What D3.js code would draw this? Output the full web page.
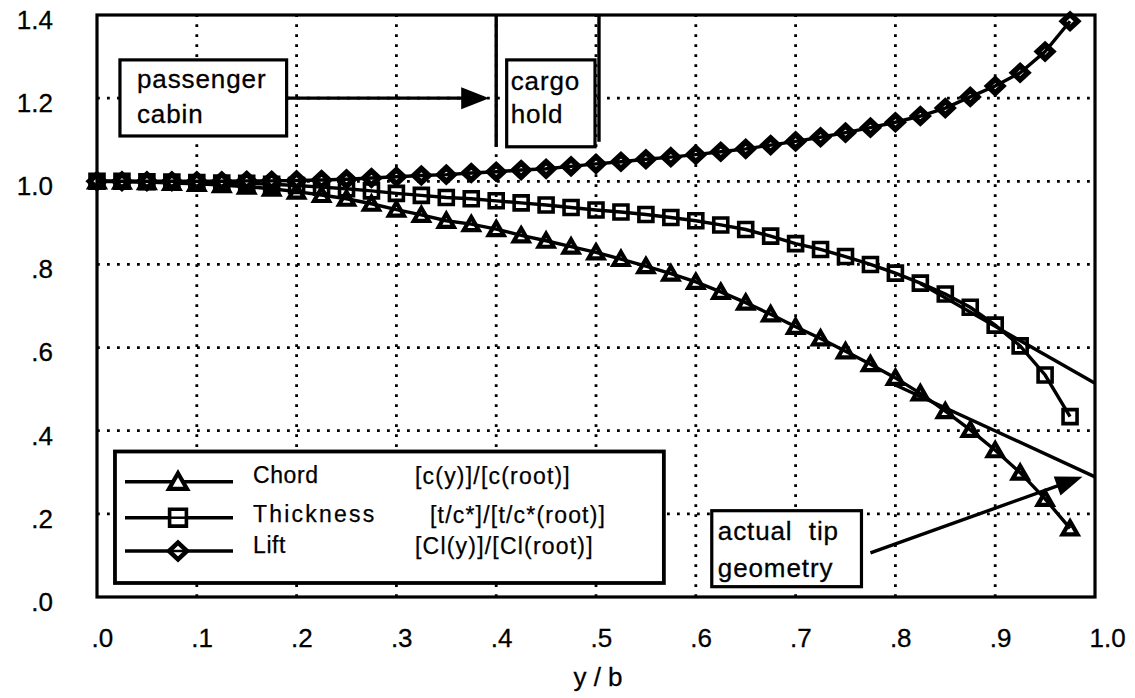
<!DOCTYPE html>
<html><head><meta charset="utf-8">
<script src="https://cdn.jsdelivr.net/npm/d3@7"></script>
<style>
html,body{margin:0;padding:0;background:#fff;}
svg{display:block;font-family:"Liberation Sans",Arial,Helvetica,sans-serif;}
</style></head><body>
<svg id="chart" width="1135" height="698"></svg>
<script>
// ---------- data ----------
const spanStations = [0,0.025,0.05,0.075,0.1,0.125,0.15,0.175,0.2,0.225,0.25,0.275,0.3,0.325,0.35,0.375,0.4,0.425,0.45,0.475,0.5,0.525,0.55,0.575,0.6,0.625,0.65,0.675,0.7,0.725,0.75,0.775,0.8,0.825,0.85,0.875,0.9,0.925,0.95,0.975];
const chordRatio = [1.000,0.999,0.998,0.996,0.994,0.991,0.987,0.982,0.975,0.967,0.958,0.946,0.932,0.919,0.905,0.897,0.885,0.870,0.857,0.843,0.829,0.813,0.796,0.778,0.758,0.734,0.708,0.680,0.650,0.622,0.591,0.560,0.527,0.490,0.447,0.402,0.353,0.299,0.236,0.165];
const thicknessRatio = [1.000,1.000,0.999,0.998,0.997,0.996,0.995,0.993,0.990,0.986,0.982,0.977,0.971,0.966,0.961,0.958,0.953,0.948,0.943,0.937,0.931,0.926,0.920,0.913,0.905,0.895,0.884,0.868,0.850,0.836,0.819,0.800,0.779,0.755,0.729,0.697,0.654,0.604,0.534,0.434];
const liftRatio = [1.000,1.000,1.000,1.000,1.000,1.000,1.001,1.001,1.002,1.003,1.005,1.008,1.011,1.014,1.016,1.020,1.023,1.027,1.030,1.036,1.042,1.047,1.053,1.058,1.064,1.071,1.078,1.087,1.096,1.106,1.117,1.129,1.142,1.157,1.176,1.203,1.229,1.261,1.312,1.385];

const xTickValues = [0,0.1,0.2,0.3,0.4,0.5,0.6,0.7,0.8,0.9,1.0];
const xTickLabels = [".0",".1",".2",".3",".4",".5",".6",".7",".8",".9","1.0"];
const yTickValues = [0,0.2,0.4,0.6,0.8,1.0,1.2,1.4];
const yTickLabels = [".0",".2",".4",".6",".8","1.0","1.2","1.4"];
const xGridValues = [0.1,0.2,0.3,0.4,0.5,0.6,0.7,0.8,0.9];
const yGridValues = [0.2,0.4,0.6,0.8,1.0,1.2];

// straight (ideal) tip extensions
const chordTipLine = [[0.80,0.51],[1.0,0.289]];
const thicknessTipLine = [[0.825,0.754],[1.0,0.514]];

// annotations (data coordinates)
const cabinBox = {x0:0.023, x1:0.190, y0:1.292, y1:1.109, lines:["passenger","cabin"]};
const cargoBox = {x0:0.4105, x1:0.499, y0:1.292, y1:1.083, lines:["cargo","hold"]};
const tipBox = {x0:0.616, x1:0.766, y0:0.2076, y1:0.0248, lines:["actual\u00A0 tip","geometry"]};
const cargoWalls = [[0.4,1.083],[0.503,1.095]];
const cabinArrow = [[0.190,1.2],[0.393,1.2]];
const tipArrow = [[0.775,0.106],[0.9875,0.289]];

const legendItems = [
  {name:"Chord", formula:"[c(y)]/[c(root)]", symbol:"triangle"},
  {name:"Thickness", formula:"[t/c*]/[t/c*(root)]", symbol:"square"},
  {name:"Lift", formula:"[Cl(y)]/[Cl(root)]", symbol:"diamond"}
];

// ---------- layout ----------
const svg = d3.select("#chart");
const x = d3.scaleLinear().domain([0,1]).range([97,1095]);
const y = d3.scaleLinear().domain([0,1.4]).range([597,15]);

// grid
const grid = svg.append("g").attr("stroke","#000").attr("stroke-width",2.8).attr("stroke-dasharray","2.8,7.2");
grid.selectAll("line.v").data(xGridValues).join("line").attr("class","v")
  .attr("x1",d=>x(d)).attr("x2",d=>x(d)).attr("y1",y(0)).attr("y2",y(1.4));
grid.selectAll("line.h").data(yGridValues).join("line").attr("class","h")
  .attr("x1",x(0)).attr("x2",x(1)).attr("y1",d=>y(d)).attr("y2",d=>y(d));

// axes labels
const xAxis = svg.append("g").attr("transform",`translate(0,${y(0)})`)
  .call(d3.axisBottom(x).tickValues(xTickValues).tickFormat((d,i)=>xTickLabels[i]).tickSize(0));
xAxis.select(".domain").remove();
xAxis.selectAll("text").attr("font-size",26).attr("font-family",null).attr("fill","#000")
  .attr("stroke","#000").attr("stroke-width",0.3)
  .attr("text-anchor","start").attr("x",-6).attr("y",50).attr("dy",null);

const yAxis = svg.append("g").attr("transform",`translate(53,0)`)
  .call(d3.axisLeft(y).tickValues(yTickValues).tickFormat((d,i)=>yTickLabels[i]).tickSize(0).tickPadding(0));
yAxis.select(".domain").remove();
yAxis.selectAll("text").attr("font-size",26).attr("font-family",null).attr("fill","#000")
  .attr("stroke","#000").attr("stroke-width",0.3)
  .attr("x",0).attr("y",5);

svg.append("text").attr("x",598).attr("y",686).attr("text-anchor","middle")
  .attr("font-size",26).attr("stroke","#000").attr("stroke-width",0.3).text("y\u00A0/\u00A0b");

// white annotation boxes
function drawBox(b, fs, lineGap, padX, firstBase){
  svg.append("rect").attr("x",x(b.x0)).attr("y",y(b.y0))
    .attr("width",x(b.x1)-x(b.x0)).attr("height",y(b.y1)-y(b.y0))
    .attr("fill","#fff").attr("stroke","#000").attr("stroke-width",3.2);
  b.lines.forEach((t,i)=>{
    svg.append("text").attr("x",x(b.x0)+padX).attr("y",y(b.y0)+firstBase+i*lineGap)
      .attr("font-size",fs).attr("letter-spacing",0.9)
      .attr("stroke","#000").attr("stroke-width",0.3).text(t);
  });
}
drawBox(cabinBox, 26, 35, 17, 28);
drawBox(cargoBox, 26, 33, 4, 30);
drawBox(tipBox, 26, 37, 6, 29);

// cargo hold walls
svg.selectAll("line.wall").data(cargoWalls).join("line").attr("class","wall")
  .attr("x1",d=>x(d[0])).attr("x2",d=>x(d[0])).attr("y1",y(1.4)).attr("y2",d=>y(d[1]))
  .attr("stroke","#000").attr("stroke-width",3.4);

// legend box
const lg = {x0:0.018, x1:0.568, y0:0.350, y1:0.0337};
svg.append("rect").attr("x",x(lg.x0)).attr("y",y(lg.y0))
  .attr("width",x(lg.x1)-x(lg.x0)).attr("height",y(lg.y1)-y(lg.y0))
  .attr("fill","#fff").attr("stroke","#000").attr("stroke-width",3.8);

// marker shapes
const shapes = {
  triangle: "M0,-7L7.5,6L-7.5,6Z",
  square: "M-7,-7H7V7H-7Z",
  diamond: "M0,-7L7.5,0L0,7L-7.5,0Z"
};
const shapeStyle = {
  triangle: {fill:"#fff", sw:4.2},
  square: {fill:"none", sw:3.6},
  diamond: {fill:"#fff", sw:5.6}
};

const series = [
  {values: chordRatio, symbol:"triangle"},
  {values: thicknessRatio, symbol:"square"},
  {values: liftRatio, symbol:"diamond"}
];
const line = d3.line().x(d=>x(d[0])).y(d=>y(d[1]));

series.forEach(s=>{
  const pts = spanStations.map((v,i)=>[v, s.values[i]]);
  const st = shapeStyle[s.symbol];
  svg.append("g").selectAll("path").data(pts).join("path")
    .attr("transform",d=>`translate(${x(d[0])},${y(d[1])})`)
    .attr("d",shapes[s.symbol]).attr("fill",st.fill).attr("stroke","#000")
    .attr("stroke-width",st.sw).attr("stroke-linejoin","miter");
  svg.append("path").datum(pts).attr("d",line).attr("fill","none")
    .attr("stroke","#000").attr("stroke-width",3.4);
});

// tip extension lines
[chordTipLine, thicknessTipLine].forEach(l=>{
  svg.append("path").datum(l).attr("d",line).attr("fill","none")
    .attr("stroke","#000").attr("stroke-width",3.4);
});

// arrows
function arrow(a, L, W){
  const p0=[x(a[0][0]),y(a[0][1])], p1=[x(a[1][0]),y(a[1][1])];
  const dx=p1[0]-p0[0], dy=p1[1]-p0[1], len=Math.hypot(dx,dy);
  const ux=dx/len, uy=dy/len, nx=-uy, ny=ux;
  const bx=p1[0]-L*ux, by=p1[1]-L*uy;
  svg.append("line").attr("x1",p0[0]).attr("y1",p0[1]).attr("x2",bx+2*ux).attr("y2",by+2*uy)
    .attr("stroke","#000").attr("stroke-width",3.4);
  svg.append("path").attr("d",`M${p1[0]},${p1[1]}L${bx+W*nx},${by+W*ny}L${bx-W*nx},${by-W*ny}Z`)
    .attr("fill","#000");
}
arrow(cabinArrow, 28, 11);
arrow(tipArrow, 27, 10);

// legend entries
const legRowY = [481.7, 517.7, 551];
const legNameBase = [483, 522, 552.5];
const legFormX = [415, 430, 415];
legendItems.forEach((it,i)=>{
  svg.append("line").attr("x1",125).attr("x2",233).attr("y1",legRowY[i]).attr("y2",legRowY[i])
    .attr("stroke","#000").attr("stroke-width",3.4);
  const st = shapeStyle[it.symbol];
  svg.append("path").attr("transform",`translate(178,${legRowY[i]}) scale(1.2)`)
    .attr("d",shapes[it.symbol]).attr("fill","#fff").attr("stroke","#000").attr("stroke-width",(it.symbol==="diamond"?4.5:st.sw)/1.2);
  if(it.symbol!=="triangle"){
    svg.append("line").attr("x1",170).attr("x2",186).attr("y1",legRowY[i]).attr("y2",legRowY[i])
      .attr("stroke","#000").attr("stroke-width",2.5);
  }
  svg.append("text").attr("x",253).attr("y",legNameBase[i]).attr("font-size",23)
    .attr("stroke","#000").attr("stroke-width",0.25)
    .attr("letter-spacing", it.name==="Thickness"?2.2:0.6).text(it.name);
  svg.append("text").attr("x",legFormX[i]).attr("y",legNameBase[i]+1).attr("font-size",23)
    .attr("stroke","#000").attr("stroke-width",0.25)
    .attr("letter-spacing",1.2).text(it.formula);
});

// plot frame
svg.append("rect").attr("x",x(0)).attr("y",y(1.4)).attr("width",x(1)-x(0)).attr("height",y(0)-y(1.4))
  .attr("fill","none").attr("stroke","#000").attr("stroke-width",3.2);
</script>
</body></html>
